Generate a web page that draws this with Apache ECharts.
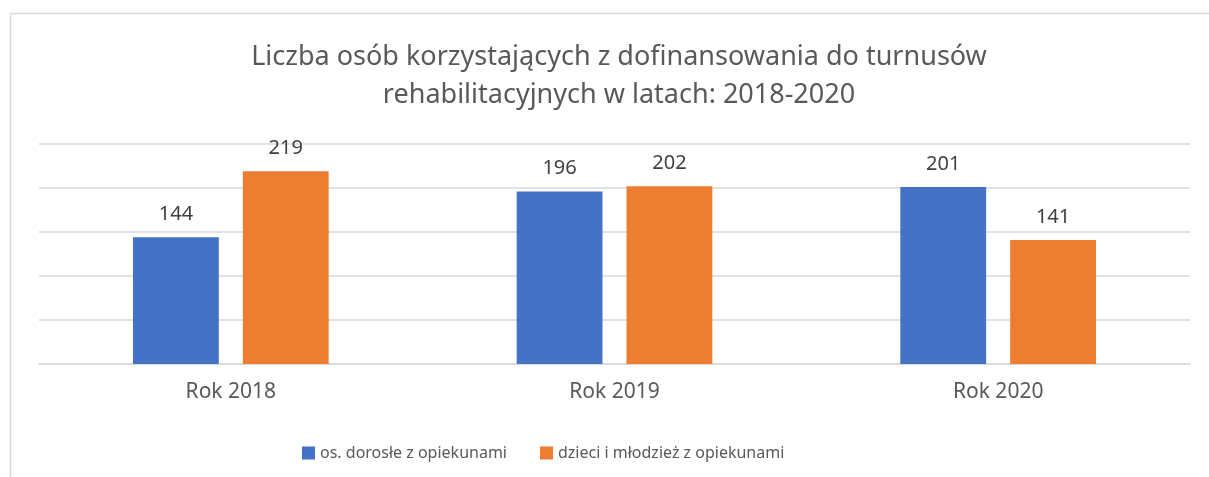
<!DOCTYPE html>
<html>
<head>
<meta charset="utf-8">
<script src="https://cdn.jsdelivr.net/npm/echarts@6/dist/echarts.min.js"></script>
<style>
  html, body { margin: 0; padding: 0; background: #fff; }
  #chart { width: 1209px; height: 477px; }
</style>
</head>
<body>
<div id="chart"></div>
<script>
const titleText = 'Liczba osób korzystających z dofinansowania do turnusów\nrehabilitacyjnych w latach: 2018-2020'
const categories = ['Rok 2018', 'Rok 2019', 'Rok 2020']
const adults = [144, 196, 201]
const children = [219, 202, 141]
const seriesNames = ['os. dorosłe z opiekunami', 'dzieci i młodzież z opiekunami']

const font = '"Noto Sans", "Open Sans", sans-serif'
const chart = echarts.init(document.getElementById('chart'))

chart.setOption({
  animation: false,
  textStyle: { fontFamily: font },
  graphic: [{
    // ramka wykresu
    type: 'rect',
    shape: { x: 10.5, y: 13.5, width: 1240, height: 520 },
    style: { fill: null, stroke: '#d9d9d9', lineWidth: 1.5 }
  }],
  title: {
    text: titleText,
    left: 614,
    textAlign: 'center',
    top: 33,
    textStyle: {
      fontFamily: font,
      fontSize: 27,
      fontWeight: 'normal',
      color: '#595959',
      lineHeight: 38
    }
  },
  legend: {
    left: 297,
    top: 440,
    itemWidth: 13,
    itemHeight: 13,
    itemGap: 33,
    icon: 'rect',
    textStyle: { fontFamily: font, fontSize: 16, color: '#595959' },
    data: seriesNames
  },
  grid: {
    left: 39,
    right: 19,
    top: 144,
    bottom: 113,
    containLabel: false
  },
  xAxis: {
    type: 'category',
    data: categories,
    axisTick: { show: false },
    axisLine: { lineStyle: { color: '#d9d9d9', width: 1.5 } },
    axisLabel: { fontFamily: font, fontSize: 21, color: '#595959', margin: 18 }
  },
  yAxis: {
    type: 'value',
    min: 0,
    max: 250,
    interval: 50,
    axisLabel: { show: false },
    axisLine: { show: false },
    axisTick: { show: false },
    splitLine: { lineStyle: { color: '#d9d9d9', width: 1.5 } }
  },
  series: [{
    name: seriesNames[0],
    type: 'bar',
    data: adults,
    barGap: '28%',
    barCategoryGap: '49%',
    itemStyle: { color: '#4472c4' },
    label: { show: true, position: 'top', distance: 13, fontFamily: font, fontSize: 20, color: '#404040' }
  }, {
    name: seriesNames[1],
    type: 'bar',
    data: children,
    itemStyle: { color: '#ed7d31' },
    label: { show: true, position: 'top', distance: 13, fontFamily: font, fontSize: 20, color: '#404040' }
  }]
})
</script>
</body>
</html>
